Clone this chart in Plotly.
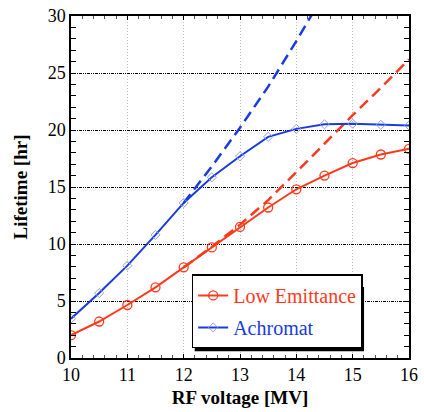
import plotly.graph_objects as go

rf_voltage = [10, 10.5, 11, 11.5, 12, 12.5, 13, 13.5, 14, 14.5, 15, 15.5, 16]
low_emittance = [2.0, 3.2, 4.65, 6.2, 7.95, 9.7, 11.5, 13.2, 14.8, 16.0, 17.1, 17.85, 18.35]
achromat = [3.45, 5.7, 8.1, 10.8, 13.6, 15.85, 17.7, 19.4, 20.1, 20.5, 20.55, 20.45, 20.4]

le_extrap_x = [12, 12.5, 13, 13.5, 14, 14.5, 15, 15.5, 16]
le_extrap_y = [7.95, 9.75, 11.7, 13.85, 16.3, 18.8, 21.3, 23.7, 26.2]
ach_extrap_x = [12, 12.5, 13, 13.5, 14, 14.5]
ach_extrap_y = [13.6, 16.8, 20.2, 23.8, 27.8, 32.0]

RED = "#ff3a1c"
BLUE = "#1a3be0"
FONT = "Liberation Serif, Times New Roman, serif"

fig = go.Figure()
fig.add_trace(go.Scatter(x=le_extrap_x, y=le_extrap_y, mode="lines",
                         line=dict(color=RED, width=2.5, dash="11px,6px"),
                         showlegend=False, hoverinfo="skip"))
fig.add_trace(go.Scatter(x=ach_extrap_x, y=ach_extrap_y, mode="lines",
                         line=dict(color=BLUE, width=2.5, dash="11px,6px"),
                         showlegend=False, hoverinfo="skip"))
fig.add_trace(go.Scatter(x=rf_voltage, y=low_emittance, mode="lines+markers",
                         name=f"<span style='color:{RED}'>Low Emittance</span>",
                         legendgroup="a",
                         line=dict(color=RED, width=2),
                         marker=dict(symbol="circle-open", size=9, color=RED, line=dict(width=1.3))))
fig.add_trace(go.Scatter(x=rf_voltage, y=achromat, mode="lines+markers",
                         name=f"<span style='color:{BLUE}'>Achromat</span>",
                         legendgroup="b",
                         line=dict(color=BLUE, width=2),
                         marker=dict(symbol="diamond-open", size=7, color="#8fa0f0", line=dict(width=1))))

fig.add_shape(type="rect", xref="paper", yref="paper",
              x0=0.366, x1=0.867, y0=0.0196, y1=0.2076,
              fillcolor="black", line=dict(width=0), layer="above")

fig.update_layout(
    width=424, height=412,
    margin=dict(l=71, r=15, t=16, b=54),
    paper_bgcolor="white", plot_bgcolor="white",
    font=dict(family=FONT, size=18, color="black"),
    showlegend=True,
    legend=dict(x=0.357, y=0.028, xanchor="left", yanchor="bottom",
                bgcolor="white", bordercolor="black", borderwidth=1.5,
                font=dict(family=FONT, size=20), tracegroupgap=3,
                itemwidth=30),
    xaxis=dict(range=[10, 16], dtick=1, showgrid=True, gridcolor="#bdbdbd",
               griddash="1px,2px", gridwidth=1, zeroline=False, automargin=False,
               showline=True, linecolor="black", linewidth=1.5, mirror="ticks",
               ticks="inside", ticklen=4, tickcolor="black",
               minor=dict(dtick=0.2, ticks="inside", ticklen=3, tickcolor="#555", showgrid=False),
               title=dict(text="<b>RF voltage [MV]</b>", font=dict(family=FONT, size=19), standoff=6),
               tickfont=dict(family=FONT, size=18)),
    yaxis=dict(range=[0, 30], dtick=5, showgrid=True, gridcolor="black",
               griddash="3px,1px,1px,1px,1px,1px", gridwidth=1, zeroline=False, automargin=False,
               showline=True, linecolor="black", linewidth=1.5, mirror="ticks",
               ticks="inside", ticklen=5, tickcolor="black",
               minor=dict(dtick=1, ticks="inside", ticklen=5, tickcolor="black", showgrid=False),
               title=dict(text="<b>Lifetime [hr]</b>", font=dict(family=FONT, size=19), standoff=15),
               tickfont=dict(family=FONT, size=18)),
)

fig.write_html("out.html")
